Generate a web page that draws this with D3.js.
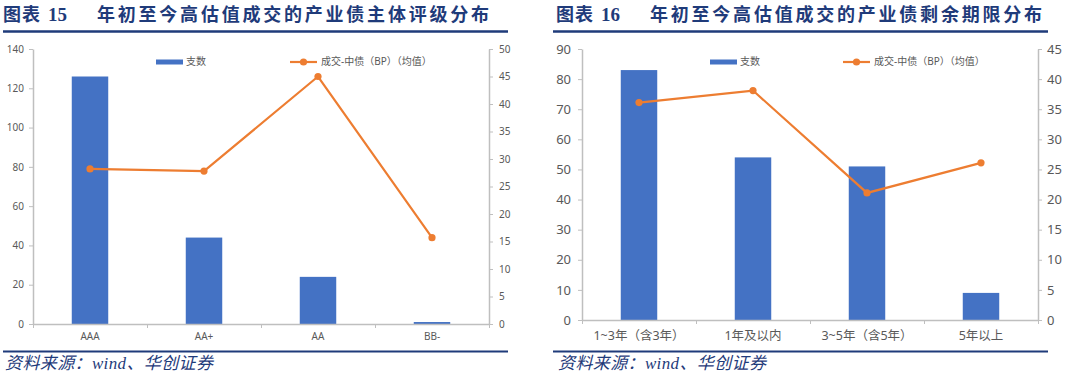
<!DOCTYPE html>
<html>
<head>
<meta charset="utf-8">
<script src="https://cdn.jsdelivr.net/npm/d3@7"></script>
<style>
 body{margin:0;background:#fff;}
 svg{display:block;}
</style>
</head>
<body>
<div id="chart"></div>
<script>
// chart 15: rating distribution
const ratingCats = ['AAA','AA+','AA','BB-'];
const ratingCount = [126,44,24,1];
const ratingSpread = [28.2,27.8,45.0,15.7];
const ratingLeftTicks = [0,20,40,60,80,100,120,140];
const ratingRightTicks = [0,5,10,15,20,25,30,35,40,45,50];

// chart 16: remaining term distribution
const termCats = ['1~3年（含3年）','1年及以内','3~5年（含5年）','5年以上'];
const termCount = [83,54,51,9];
const termSpread = [36.1,38.1,21.1,26.1];
const termLeftTicks = [0,10,20,30,40,50,60,70,80,90];
const termRightTicks = [0,5,10,15,20,25,30,35,40,45];

const legendBar = '支数';
const legendLine = '成交-中债（BP）（均值）';

const barColor = '#4472C4';
const lineColor = '#ED7D31';
const navy = '#1F3B7A';
const axisColor = '#BFBFBF';
const textColor = '#595959';

const svg = d3.select('#chart').append('svg')
    .attr('width',1080)
    .attr('height',379);

function drawPanel(opt){
 const g = svg.append('g');

 // title
 const title = g.append('g')
     .attr('fill',navy)
     .style('font-family','"Noto Sans CJK SC"')
     .style('font-weight','bold')
     .style('font-size','18px');
 title.append('text')
     .attr('x',opt.titleX)
     .attr('y',21)
     .attr('textLength',37)
     .text('图表');
 title.append('text')
     .attr('x',opt.titleX+45)
     .attr('y',21)
     .style('font-size','19px')
     .style('font-family','"Liberation Serif"')
     .text(opt.num);
 title.append('text')
     .attr('x',opt.titleX+94)
     .attr('y',21)
     .attr('textLength',392)
     .text(opt.title);

 g.append('line')
     .attr('x1',opt.lineX1).attr('x2',opt.lineX2)
     .attr('y1',31.5).attr('y2',31.5)
     .attr('stroke',navy)
     .attr('stroke-width',2.5);

 g.append('line')
     .attr('x1',opt.lineX1).attr('x2',opt.lineX2)
     .attr('y1',351.5).attr('y2',351.5)
     .attr('stroke',navy)
     .attr('stroke-width',2);

 g.append('text')
     .attr('x',opt.titleX+2)
     .attr('y',369)
     .attr('fill',navy)
     .attr('textLength',208)
     .style('font-size','17px')
     .style('font-style','italic')
     .style('font-family','"Liberation Serif","Noto Sans CJK SC"')
     .text('资料来源：wind、华创证券');

 // plot area
 const x0 = opt.left, x1 = opt.right, yTop = 49, yBot = opt.bottom;

 const xBand = d3.scaleBand()
     .domain(opt.cats)
     .range([x0,x1])
     .paddingInner(0)
     .paddingOuter(0);

 const yLeft = d3.scaleLinear()
     .domain([0,d3.max(opt.leftTicks)])
     .range([yBot,yTop]);

 const yRight = d3.scaleLinear()
     .domain([0,d3.max(opt.rightTicks)])
     .range([yBot,yTop]);

 const font = '"Noto Sans","Noto Sans CJK SC"';

 // bars
 const bw = xBand.bandwidth()*0.32;
 g.append('g').selectAll('rect')
     .data(opt.counts)
     .join('rect')
     .attr('x',(d,i)=>xBand(opt.cats[i])+xBand.bandwidth()/2-bw/2)
     .attr('width',bw)
     .attr('y',d=>yLeft(d))
     .attr('height',d=>yBot-yLeft(d))
     .attr('fill',barColor);

 // left axis
 const gl = g.append('g')
     .attr('transform',`translate(${x0},0)`)
     .call(d3.axisLeft(yLeft).tickValues(opt.leftTicks).tickSize(4).tickSizeOuter(0).tickPadding(opt.padL));
 // right axis
 const gr = g.append('g')
     .attr('transform',`translate(${x1},0)`)
     .call(d3.axisRight(yRight).tickValues(opt.rightTicks).tickSize(4).tickSizeOuter(0).tickPadding(opt.padR));

 // bottom axis: boundary ticks + labels
 const xLin = d3.scaleLinear().domain([0,opt.cats.length]).range([x0,x1]);
 const gb = g.append('g')
     .attr('transform',`translate(0,${yBot})`)
     .call(d3.axisBottom(xLin).tickValues(d3.range(opt.cats.length+1)).tickFormat('').tickSize(4).tickSizeOuter(0));
 const gbl = g.append('g')
     .attr('transform',`translate(0,${yBot})`)
     .call(d3.axisBottom(xBand).tickSize(0).tickPadding(opt.padB));
 gbl.select('.domain').remove();

 [gl,gr,gb,gbl].forEach(a=>{
  a.selectAll('.domain').attr('stroke',axisColor).attr('stroke-width',1.5);
  a.selectAll('.tick line').attr('stroke',axisColor);
  a.selectAll('text')
      .attr('fill',textColor)
      .style('font-family',font)
      .style('font-size',opt.fontSize+'px');
 });
 gbl.selectAll('text').style('font-size',opt.catSize+'px');

 // line
 const line = d3.line()
     .x((d,i)=>xBand(opt.cats[i])+xBand.bandwidth()/2)
     .y(d=>yRight(d));

 g.append('path')
     .datum(opt.spread)
     .attr('fill','none')
     .attr('stroke',lineColor)
     .attr('stroke-width',2.2)
     .attr('d',line);

 g.append('g').selectAll('circle')
     .data(opt.spread)
     .join('circle')
     .attr('cx',(d,i)=>xBand(opt.cats[i])+xBand.bandwidth()/2)
     .attr('cy',d=>yRight(d))
     .attr('r',3.6)
     .attr('fill',lineColor);

 // legend
 const lg = g.append('g')
     .style('font-family',font)
     .style('font-size','10px')
     .attr('fill',textColor);
 lg.append('rect')
     .attr('x',opt.legBarX).attr('y',59.5)
     .attr('width',27).attr('height',5)
     .attr('fill',barColor);
 lg.append('text')
     .attr('x',opt.legBarX+30).attr('y',62)
     .attr('dominant-baseline','middle')
     .text(legendBar);
 lg.append('line')
     .attr('x1',opt.legLineX).attr('x2',opt.legLineX+27)
     .attr('y1',62).attr('y2',62)
     .attr('stroke',lineColor)
     .attr('stroke-width',2.2);
 lg.append('circle')
     .attr('cx',opt.legLineX+13.5).attr('cy',62)
     .attr('r',3.6)
     .attr('fill',lineColor);
 lg.append('text')
     .attr('x',opt.legLineX+31).attr('y',62)
     .attr('dominant-baseline','middle')
     .text(legendLine);
}

drawPanel({
 num:'15', title:'年初至今高估值成交的产业债主体评级分布',
 titleX:3, lineX1:3, lineX2:508,
 left:33, right:489, bottom:324,
 cats:ratingCats, counts:ratingCount, spread:ratingSpread,
 leftTicks:ratingLeftTicks, rightTicks:ratingRightTicks,
 padL:5, padR:6, padB:9, fontSize:10, catSize:10,
 legBarX:156, legLineX:290
});

drawPanel({
 num:'16', title:'年初至今高估值成交的产业债剩余期限分布',
 titleX:556, lineX1:553, lineX2:1048,
 left:582, right:1038, bottom:320,
 cats:termCats, counts:termCount, spread:termSpread,
 leftTicks:termLeftTicks, rightTicks:termRightTicks,
 padL:7, padR:5, padB:11, fontSize:13, catSize:12.5,
 legBarX:710, legLineX:843
});
</script>
</body>
</html>
